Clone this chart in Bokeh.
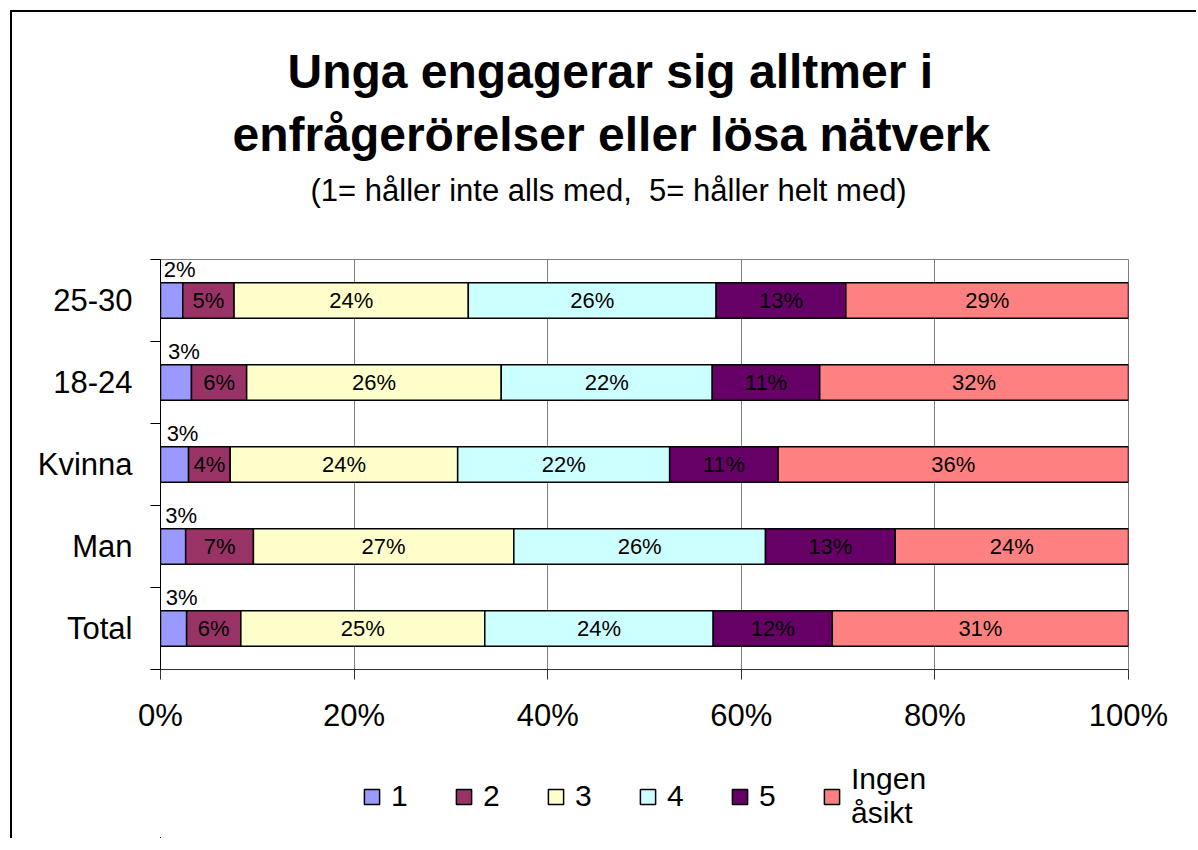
from bokeh.plotting import figure
from bokeh.layouts import column
from bokeh.models import (Range1d, FixedTicker, PrintfTickFormatter, Title, Legend,
                          LegendItem, ColumnDataSource)
from bokeh.embed import file_html
from bokeh.resources import INLINE
from bokeh.core.properties import value

# ---------------- data ----------------
categories = ["Total", "Man", "Kvinna", "18-24", "25-30"]
series_names = ["1", "2", "3", "4", "5", "Ingen\nåsikt"]
series_colors = ["#9999FF", "#993366", "#FFFFCC", "#CCFFFF", "#660066", "#FF8080"]
s1 = [2.7, 2.6, 2.9, 3.2, 2.3]
s2 = [5.6, 7.0, 4.3, 5.7, 5.3]
s3 = [25.2, 26.9, 23.5, 26.3, 24.2]
s4 = [23.6, 26.0, 21.9, 21.8, 25.6]
s5 = [12.3, 13.4, 11.2, 11.1, 13.4]
s6 = [30.6, 24.1, 36.2, 31.9, 29.2]
x_ticks = [0, 20, 40, 60, 80, 100]

title_line1 = "Unga engagerar sig alltmer i"
title_line2 = "enfrågerörelser eller lösa nätverk"
subtitle = "(1= håller inte alls med,\u00a0 5= håller helt med)"

FONT = "Liberation Sans"
series = [s1, s2, s3, s4, s5, s6]
keys = ["s1", "s2", "s3", "s4", "s5", "s6"]

totals = [sum(s[i] for s in series) for i in range(len(categories))]
pct = [[s[i] / totals[i] * 100 for i in range(len(categories))] for s in series]
ys = [i + 0.5 for i in range(len(categories))]

data = {"y": ys}
for k, vals in zip(keys, pct):
    data[k] = vals
source = ColumnDataSource(data)

BAR_H = 0.43
LEFT_B, RIGHT_B = 148, 70
FRAME_W = 966

p = figure(frame_width=FRAME_W, frame_height=408, output_backend="svg", toolbar_location=None,
           x_range=Range1d(0, 100), y_range=Range1d(0, len(categories)),
           min_border_left=LEFT_B, min_border_right=RIGHT_B, min_border_top=247,
           min_border_bottom=75)
p.styles = {"border-left": "2px solid black", "border-top": "2px solid black",
            "margin-left": "10px", "margin-top": "10px"}
p.background_fill_color = "white"
p.border_fill_color = "white"
p.outline_line_color = "#808080"
p.outline_line_width = 1

renderers = p.hbar_stack(keys, y="y", height=BAR_H, color=series_colors,
                         line_color="black", line_width=1.5, source=source)

lab_x, lab_y, lab_t = [], [], []
first_x, first_y, first_t = [], [], []
for i in range(len(categories)):
    left = 0.0
    for j, k in enumerate(keys):
        v = pct[j][i]
        raw = series[j][i]
        txt = f"{int(raw + 0.5)}%"
        if j == 0:
            first_x.append(left + v / 2)
            first_y.append(ys[i] + BAR_H / 2)
            first_t.append(txt)
        else:
            lab_x.append(left + v / 2)
            lab_y.append(ys[i])
            lab_t.append(txt)
        left += v

p.text(x=lab_x, y=lab_y, text=lab_t, text_align="center", text_baseline="middle",
       text_font=value(FONT), text_font_size="22px", text_color="black")
p.text(x=first_x, y=first_y, text=first_t, text_align="center",
       text_baseline="bottom", x_offset=8, y_offset=-1,
       text_font=value(FONT), text_font_size="22px", text_color="black")

xa = p.xaxis[0]
xa.ticker = FixedTicker(ticks=x_ticks)
xa.formatter = PrintfTickFormatter(format="%d%%")
xa.major_tick_out = 10
xa.major_tick_in = 0
xa.minor_tick_out = 0
xa.minor_tick_in = 0
xa.axis_line_color = "#333333"
xa.major_tick_line_color = "#333333"
xa.major_label_text_font = FONT
xa.major_label_text_font_size = "31px"
xa.major_label_text_color = "black"
xa.major_label_standoff = 18

ya = p.yaxis[0]
ya.ticker = FixedTicker(ticks=ys, minor_ticks=list(range(len(categories) + 1)))
ya.major_label_overrides = {y: c for y, c in zip(ys, categories)}
ya.major_tick_out = 0
ya.major_tick_in = 0
ya.minor_tick_out = 10
ya.minor_tick_in = 0
ya.minor_tick_line_color = "black"
ya.axis_line_color = "black"
ya.major_label_text_font = FONT
ya.major_label_text_font_size = "31px"
ya.major_label_text_color = "black"
ya.major_label_standoff = 18

p.xgrid.ticker = FixedTicker(ticks=x_ticks)
p.xgrid.grid_line_color = "#808080"
p.ygrid.grid_line_color = None

# ---- titles (stacked outward from the frame) ----
p.add_layout(Title(text=" ", text_font_size="10px", standoff=37), "above")
p.add_layout(Title(text=subtitle, align="left", offset=150, text_font=FONT,
                   text_font_size="31px", text_font_style="normal", text_color="black",
                   standoff=4), "above")
p.add_layout(Title(text=title_line2, align="left", offset=72, text_font=FONT,
                   text_font_size="48px", text_font_style="bold", text_color="black",
                   standoff=16), "above")
p.add_layout(Title(text=title_line1, align="left", offset=127, text_font=FONT,
                   text_font_size="48px", text_font_style="bold", text_color="black",
                   standoff=0), "above")

# ---- legend strip below the chart (same frame alignment as the chart) ----
p2 = figure(width=LEFT_B + FRAME_W + RIGHT_B, height=96, output_backend="svg",
            toolbar_location=None, x_axis_type=None, y_axis_type=None,
            x_range=Range1d(1000, 1001), y_range=Range1d(1000, 1001),
            min_border_left=LEFT_B, min_border_right=RIGHT_B, min_border_top=0,
            min_border_bottom=0)
p2.styles = {"border-left": "2px solid black", "margin-left": "10px"}
p2.outline_line_color = None
p2.background_fill_color = "white"
p2.border_fill_color = "white"
p2.grid.visible = False

# same series (outside this strip's visible range) so the legend has real glyphs
leg_renderers = p2.hbar_stack(keys, y="y", height=BAR_H, color=series_colors,
                              line_color="black", line_width=1.5, source=source)
legend = Legend(items=[LegendItem(label=n, renderers=[r]) for n, r in zip(series_names, leg_renderers)],
                orientation="horizontal", location=(202, 8),
                glyph_width=19, glyph_height=19, label_standoff=10, spacing=43,
                label_text_font=FONT, label_text_font_size="30px", label_text_color="black",
                label_text_line_height=1.2,
                border_line_color=None, background_fill_alpha=0, padding=0, margin=0)
p2.add_layout(legend, "center")

layout = column(p, p2)
open("out.html", "w").write(file_html(layout, INLINE))
